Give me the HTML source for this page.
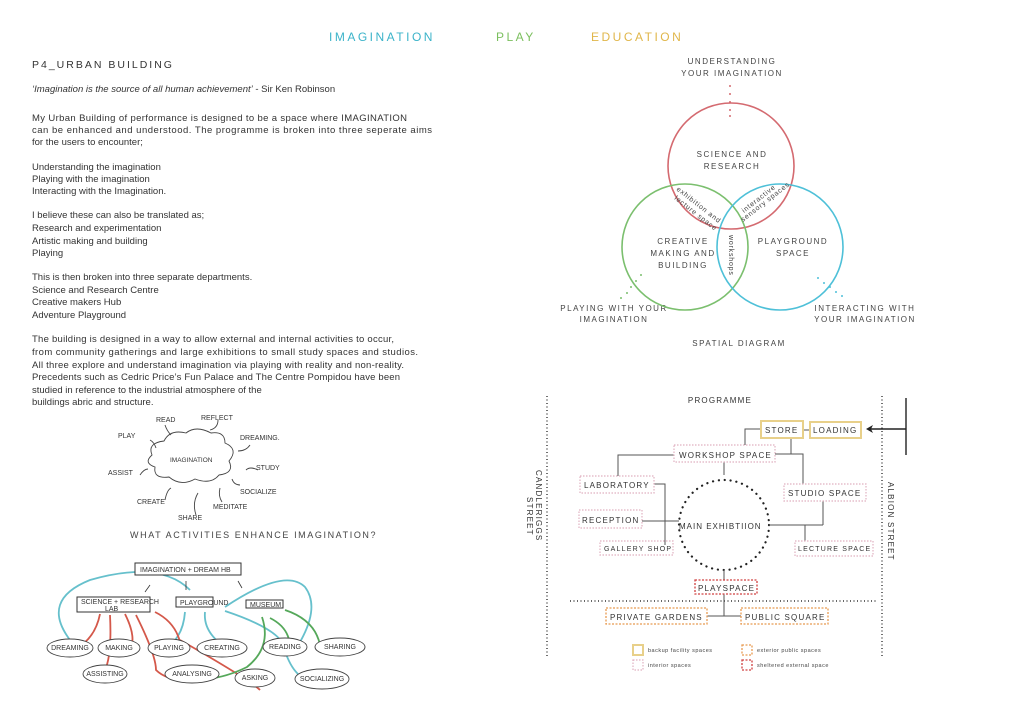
<!DOCTYPE html>
<html><head><meta charset="utf-8"><style>
html,body{margin:0;padding:0;background:#fff;}
svg{display:block;font-family:"Liberation Sans",sans-serif;}
.b{font-size:9.5px;fill:#333;}
.s{font-size:8px;fill:#444;letter-spacing:1.5px;}
.k{font-size:7px;fill:#333;font-family:"Liberation Sans",sans-serif;}
.p{font-size:8px;fill:#333;letter-spacing:1.2px;}
</style></head><body>
<svg width="1024" height="724" viewBox="0 0 1024 724">
<text x="329" y="41" font-size="12" fill="#3bb3c9" letter-spacing="2.5">IMAGINATION</text>
<text x="496" y="41" font-size="12" fill="#7bbf5e" letter-spacing="2.5">PLAY</text>
<text x="591" y="41" font-size="12" fill="#e0b64a" letter-spacing="2.5">EDUCATION</text>

<text x="32" y="68" font-size="10.5" fill="#333" letter-spacing="2">P4_URBAN BUILDING</text>
<text x="32" y="92" class="b"><tspan font-style="italic">‘Imagination is the source of all human achievement’</tspan> - Sir Ken Robinson</text>
<g class="b">
<text x="32" y="121" textLength="375">My Urban Building of performance is designed to be a space where IMAGINATION</text>
<text x="32" y="133" textLength="400">can be enhanced and understood. The programme is broken into three seperate aims</text>
<text x="32" y="145">for the users to encounter;</text>
<text x="32" y="170">Understanding the imagination</text>
<text x="32" y="182">Playing with the imagination</text>
<text x="32" y="194">Interacting with the Imagination.</text>
<text x="32" y="218">I believe these can also be translated as;</text>
<text x="32" y="231">Research and experimentation</text>
<text x="32" y="244">Artistic making and building</text>
<text x="32" y="256">Playing</text>
<text x="32" y="280">This is then broken into three separate departments.</text>
<text x="32" y="293">Science and Research Centre</text>
<text x="32" y="305">Creative makers Hub</text>
<text x="32" y="318">Adventure Playground</text>
<text x="32" y="342" textLength="362">The building is designed in a way to allow external and internal activities to occur,</text>
<text x="32" y="355" textLength="386">from community gatherings and large exhibitions to small study spaces and studios.</text>
<text x="32" y="368" textLength="372">All three explore and understand imagination via playing with reality and non-reality.</text>
<text x="32" y="380" textLength="368">Precedents such as Cedric Price’s Fun Palace and The Centre Pompidou have been</text>
<text x="32" y="393">studied in reference to the industrial atmosphere of the</text>
<text x="32" y="405">buildings abric and structure.</text>
</g>

<g fill="none" stroke="#444" stroke-width="0.9">
<path d="M152,455 q-5,-12 12,-14 q6,-12 22,-8 q10,-8 25,0 q14,-2 14,10 q14,6 4,18 q6,12 -10,14 q-8,10 -24,4 q-14,8 -26,-2 q-16,2 -14,-10 q-12,-4 -3,-12z"/>
<path d="M150,440 q4,2 6,8"/><path d="M165,425 q2,6 6,10"/><path d="M218,420 q0,8 -8,10"/><path d="M250,445 q-4,6 -12,6"/><path d="M258,470 q-8,-4 -12,0"/><path d="M140,475 q4,-6 8,-6"/><path d="M240,485 q-6,0 -8,-6"/><path d="M165,500 q2,-10 6,-12"/><path d="M222,502 q-4,-6 -2,-14"/><path d="M196,515 q-4,-12 2,-22"/>
</g>
<g class="k" font-size="6">
<text x="156" y="422">READ</text><text x="201" y="420">REFLECT</text><text x="118" y="438">PLAY</text><text x="240" y="440">DREAMING.</text><text x="256" y="470">STUDY</text><text x="108" y="475">ASSIST</text><text x="240" y="494">SOCIALIZE</text><text x="137" y="504">CREATE</text><text x="213" y="509">MEDITATE</text><text x="178" y="520">SHARE</text>
<text x="170" y="462" font-size="6.5">IMAGINATION</text>
</g>
<text x="130" y="538" font-size="9" fill="#444" letter-spacing="1.6">WHAT ACTIVITIES ENHANCE IMAGINATION?</text>

<g fill="none" stroke-width="1.8">
<path d="M70,640 q-30,-40 20,-60 q70,-20 100,10" stroke="#66c0cc"/>
<path d="M225,607 q60,-40 80,-20 q15,20 -5,55" stroke="#66c0cc"/>
<path d="M225,611 q60,20 60,40 q10,30 30,30" stroke="#66c0cc"/>
<path d="M185,612 q-2,25 -18,35" stroke="#66c0cc"/>
<path d="M205,612 q-2,20 20,35" stroke="#66c0cc"/>
<path d="M100,614 q-5,25 -25,35" stroke="#d4584a"/>
<path d="M110,615 q2,40 -5,55" stroke="#d4584a"/>
<path d="M125,614 q15,30 0,40" stroke="#d4584a"/>
<path d="M136,615 q20,40 20,55 q10,10 30,10" stroke="#d4584a"/>
<path d="M155,612 q20,10 25,30" stroke="#d4584a"/>
<path d="M180,640 q70,40 80,50" stroke="#d4584a"/>
<path d="M262,617 q10,30 -15,50 q-20,10 -40,12" stroke="#55a85a"/>
<path d="M270,618 q20,10 20,30" stroke="#55a85a"/>
<path d="M285,610 q30,10 35,35" stroke="#55a85a"/>
</g>
<g stroke="#333" stroke-width="1" fill="#fff">
<rect x="135" y="563" width="106" height="12"/><rect x="77" y="597" width="73" height="15"/><rect x="176" y="597" width="37" height="10"/><rect x="246" y="600" width="37" height="8"/>
</g>
<g stroke="#333" stroke-width="0.8"><line x1="150" y1="585" x2="145" y2="592"/><line x1="186" y1="581" x2="186" y2="590"/><line x1="238" y1="581" x2="242" y2="588"/></g>
<g class="k" font-size="5.5"><text x="140" y="572">IMAGINATION + DREAM HB</text><text x="81" y="604">SCIENCE + RESEARCH</text><text x="105" y="611">LAB</text><text x="180" y="605">PLAYGROUND</text><text x="250" y="607">MUSEUM</text></g>
<g fill="#fff" stroke="#444" stroke-width="0.9">
<ellipse cx="70" cy="648" rx="23" ry="9"/><ellipse cx="119" cy="648" rx="21" ry="9"/><ellipse cx="169" cy="648" rx="21" ry="9"/><ellipse cx="222" cy="648" rx="25" ry="9"/><ellipse cx="285" cy="647" rx="22" ry="9"/><ellipse cx="340" cy="647" rx="25" ry="9"/>
<ellipse cx="105" cy="674" rx="22" ry="9"/><ellipse cx="192" cy="674" rx="27" ry="9"/><ellipse cx="255" cy="678" rx="20" ry="9"/><ellipse cx="322" cy="679" rx="27" ry="10"/>
</g>
<g class="k" font-size="5.5" text-anchor="middle"><text x="70" y="650">DREAMING</text><text x="119" y="650">MAKING</text><text x="169" y="650">PLAYING</text><text x="222" y="650">CREATING</text><text x="285" y="649">READING</text><text x="340" y="649">SHARING</text><text x="105" y="676">ASSISTING</text><text x="192" y="676">ANALYSING</text><text x="255" y="680">ASKING</text><text x="322" y="681">SOCIALIZING</text></g>

<g class="s" text-anchor="middle">
<text x="732" y="64">UNDERSTANDING</text><text x="732" y="76">YOUR IMAGINATION</text>
<text x="732" y="157">SCIENCE AND</text><text x="732" y="169">RESEARCH</text>
<text x="683" y="244">CREATIVE</text><text x="683" y="256">MAKING AND</text><text x="683" y="268">BUILDING</text>
<text x="793" y="244">PLAYGROUND</text><text x="793" y="256">SPACE</text>
<text x="614" y="311">PLAYING WITH YOUR</text><text x="614" y="322">IMAGINATION</text>
<text x="865" y="311">INTERACTING WITH</text><text x="865" y="322">YOUR IMAGINATION</text>
<text x="739" y="346">SPATIAL DIAGRAM</text>
</g>
<g fill="none" stroke-width="1.6">
<circle cx="731" cy="166" r="63" stroke="#d46a70"/>
<circle cx="685" cy="247" r="63" stroke="#7bbf6e"/>
<circle cx="780" cy="247" r="63" stroke="#4ec0d8"/>
</g>
<g fill="#d46a70"><circle cx="730" cy="86" r="1"/><circle cx="730" cy="94" r="1"/><circle cx="730" cy="102" r="1"/><circle cx="730" cy="110" r="1"/><circle cx="730" cy="116" r="1"/></g>
<g fill="#7bbf6e"><circle cx="641" cy="275" r="1"/><circle cx="636" cy="281" r="1"/><circle cx="631" cy="287" r="1"/><circle cx="627" cy="293" r="1"/><circle cx="621" cy="298" r="1"/></g>
<g fill="#4ec0d8"><circle cx="818" cy="278" r="1"/><circle cx="824" cy="283" r="1"/><circle cx="830" cy="287" r="1"/><circle cx="836" cy="292" r="1"/><circle cx="842" cy="296" r="1"/></g>
<g font-size="7" fill="#444" letter-spacing="0.8">
<text transform="translate(676,190) rotate(38)">exhibition and</text>
<text transform="translate(674,199) rotate(38)">lecture space</text>
<text transform="translate(744,213) rotate(-38)">interactive</text>
<text transform="translate(743,222) rotate(-38)">sensory spaces</text>
<text transform="translate(729,235) rotate(90)">workshops</text>
</g>

<text x="720" y="403" class="p" text-anchor="middle" letter-spacing="1.8">PROGRAMME</text>
<g stroke="#333" stroke-width="1.4" stroke-dasharray="1 2.5" fill="none">
<line x1="547" y1="396" x2="547" y2="656"/><line x1="882" y1="396" x2="882" y2="656"/><line x1="570" y1="601" x2="876" y2="601"/>
</g>
<circle cx="724" cy="525" r="45" fill="none" stroke="#222" stroke-width="2.2" stroke-dasharray="0.1 5.8" stroke-linecap="round"/>
<g stroke="#555" stroke-width="1" fill="none">
<polyline points="761,429 745,429 745,445"/><line x1="803" y1="430" x2="810" y2="430"/>
<polyline points="775,454 803,454 803,484"/><line x1="791" y1="454" x2="791" y2="438"/>
<polyline points="674,455 618,455 618,476"/><line x1="724" y1="462" x2="724" y2="475"/>
<polyline points="654,484 665,484 665,545"/><line x1="642" y1="521" x2="679" y2="521"/>
<line x1="769" y1="525" x2="823" y2="525"/><line x1="823" y1="501" x2="823" y2="525"/><line x1="805" y1="525" x2="805" y2="541"/>
<line x1="724" y1="570" x2="724" y2="580"/><line x1="724" y1="594" x2="724" y2="616"/><line x1="707" y1="616" x2="741" y2="616"/>
</g>
<g stroke="#222" stroke-width="1.4"><line x1="868" y1="429" x2="906" y2="429"/><line x1="906" y1="398" x2="906" y2="455"/></g>
<path d="M866,429 l7,-4 l-2,4 l2,4z" fill="#222"/>
<g fill="none" stroke-width="2" stroke="#e8d08a"><rect x="761" y="421" width="42" height="17"/><rect x="810" y="422" width="51" height="16"/><rect x="633" y="645" width="10" height="10"/></g>
<g fill="none" stroke-width="1.2" stroke="#e0b0c0" stroke-dasharray="1.5 1.5">
<rect x="674" y="445" width="101" height="17"/><rect x="580" y="476" width="74" height="17"/><rect x="784" y="484" width="82" height="17"/><rect x="579" y="510" width="63" height="18"/><rect x="600" y="541" width="73" height="14"/><rect x="795" y="541" width="78" height="15"/><rect x="633" y="660" width="10" height="10"/>
</g>
<g fill="none" stroke-width="1.3" stroke="#e89a50" stroke-dasharray="2 1.5"><rect x="606" y="608" width="101" height="16"/><rect x="741" y="608" width="87" height="16"/><rect x="742" y="645" width="10" height="10"/></g>
<g fill="none" stroke-width="1.3" stroke="#d04040" stroke-dasharray="2 1.5"><rect x="695" y="580" width="62" height="14"/><rect x="742" y="660" width="10" height="10"/></g>
<g class="p">
<text x="765" y="433">STORE</text><text x="813" y="433">LOADING</text>
<text x="679" y="458">WORKSHOP SPACE</text><text x="584" y="488">LABORATORY</text><text x="788" y="496">STUDIO SPACE</text><text x="582" y="523">RECEPTION</text>
<text x="679" y="529" letter-spacing="1">MAIN EXHIBTIION</text>
<text x="604" y="551" font-size="7">GALLERY SHOP</text><text x="798" y="551" font-size="7">LECTURE SPACE</text>
<text x="698" y="591">PLAYSPACE</text><text x="610" y="620">PRIVATE GARDENS</text><text x="745" y="620">PUBLIC SQUARE</text>
</g>
<g font-size="5.5" fill="#444" letter-spacing="0.5"><text x="648" y="652">backup facility spaces</text><text x="648" y="667">interior spaces</text><text x="757" y="652">exterior public spaces</text><text x="757" y="667">sheltered external space</text></g>
<g class="p"><text transform="translate(536,470) rotate(90)">CANDLERIGGS</text><text transform="translate(527,497) rotate(90)">STREET</text>
<text transform="translate(888,482) rotate(90)">ALBION STREET</text></g>
</svg>
</body></html>
